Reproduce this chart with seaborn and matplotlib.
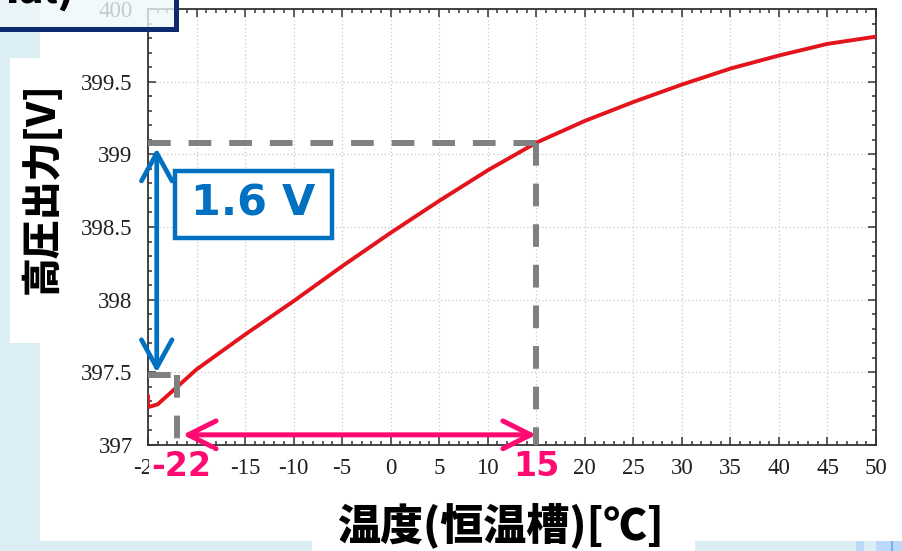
import matplotlib
matplotlib.use("Agg")
import matplotlib.pyplot as plt
import pandas as pd
import seaborn as sns
from matplotlib.patches import Rectangle
from matplotlib.ticker import MultipleLocator

# Measured HV output vs. chamber temperature
temperature_c = [-25, -25, -24, -22, -20, -15, -10, -5, 0, 5, 10, 15,
                 20, 25, 30, 35, 40, 45, 50]
hv_output_v = [397.34, 397.26, 397.28, 397.40, 397.52, 397.76, 397.99,
               398.23, 398.46, 398.68, 398.89, 399.08, 399.23, 399.36,
               399.48, 399.59, 399.68, 399.76, 399.81]

x_ticks = [-25, -20, -15, -10, -5, 0, 5, 10, 15, 20, 25, 30, 35, 40, 45, 50]
x_tick_labels = ["-25", "-20", "-15", "-10", "-5", "0", "5", "10", "15",
                 "20", "25", "30", "35", "40", "45", "50"]
y_ticks = [397, 397.5, 398, 398.5, 399, 399.5, 400]
y_tick_labels = ["397", "397.5", "398", "398.5", "399", "399.5", "400"]

# Annotated operating range
low_temp = -22
high_temp = 15
v_low = 397.48
v_high = 399.08
delta_label = "1.6 V"
low_label = "-22"
high_label = "15"

x_label = "温度(恒温槽)[℃]"
y_label = "高圧出力[V]"
corner_label = "ial)"

sns.set_theme(style="ticks")
plt.rcParams["font.family"] = ["Liberation Serif", "DejaVu Serif"]
CJK = ["Noto Sans CJK JP", "DejaVu Sans"]

W, H = 902, 551
fig = plt.figure(figsize=(W / 100, H / 100), dpi=100)
fig.patch.set_facecolor("#daeef3")


def fx(px):
    return px / W


def fy(py):
    return 1 - py / H


def box(x0, y0, x1, y1, **kw):
    r = Rectangle((fx(x0), fy(y1)), fx(x1) - fx(x0), fy(y0) - fy(y1),
                  transform=fig.transFigure, **kw)
    fig.add_artist(r)
    return r


# slide background panels
box(40, 0, 902, 541, facecolor="white", edgecolor="none", zorder=-3)
box(10, 58, 40, 343, facecolor="white", edgecolor="none", zorder=-3)
box(312, 490, 695, 551, facecolor="white", edgecolor="none", zorder=-3)
box(856, 541, 864, 551, facecolor="#bcd8fb", edgecolor="none", zorder=-3)
box(876, 541, 891, 551, facecolor="#bcd8fb", edgecolor="none", zorder=-3)
box(891, 541, 893, 551, facecolor="#70b2f8", edgecolor="none", zorder=-3)
box(893, 541, 902, 551, facecolor="#bcd8fb", edgecolor="none", zorder=-3)

ax = fig.add_axes([fx(148), fy(445), fx(876) - fx(148), fy(9) - fy(445)])
ax.set_facecolor("white")

df = pd.DataFrame({"temp": temperature_c, "volt": hv_output_v})
sns.lineplot(data=df, x="temp", y="volt", estimator=None, sort=False,
             color="#e3141c", linewidth=2.8, ax=ax, zorder=4)

ax.set_xlim(-25, 50)
ax.set_ylim(397, 400)
ax.set_xticks(x_ticks)
ax.set_xticklabels(x_tick_labels)
ax.set_yticks(y_ticks)
ax.set_yticklabels(y_tick_labels)
ax.xaxis.set_minor_locator(MultipleLocator(1))
ax.yaxis.set_minor_locator(MultipleLocator(0.1))
ax.tick_params(which="both", direction="in", top=True, right=True,
               color="#333333", width=1.1, labelsize=16.5, labelcolor="#1e1e1e")
ax.tick_params(which="major", length=6)
ax.tick_params(which="minor", length=3)
ax.tick_params(axis="y", pad=11)
ax.tick_params(axis="x", pad=9)
ax.set_xlabel("")
ax.set_ylabel("")
for s in ax.spines.values():
    s.set_color("#333333")
    s.set_linewidth(1.3)
ax.grid(True, which="major", linestyle=(0, (1, 2)), color="#c8c8c8", linewidth=0.9)

# dashed guide lines
gray = "#808080"
dash = dict(color=gray, linewidth=4.3, dashes=(3.8, 3.0), zorder=5,
            solid_capstyle="butt", dash_capstyle="butt", clip_on=False)
ax.plot([-25, high_temp], [v_high, v_high], **dash)
ax.plot([high_temp, high_temp], [v_high, 397], **dash)
ax.plot([-25, low_temp], [v_low, v_low], **dash)
ax.plot([low_temp, low_temp], [v_low, 397], **dash)

# voltage span arrow
blue = "#0070c0"
ax.annotate("", xy=(-24.1, v_high), xytext=(-24.1, v_low),
            arrowprops=dict(arrowstyle="<->,head_length=1.0,head_width=0.55",
                            mutation_scale=20, color=blue, lw=3.4,
                            shrinkA=2, shrinkB=4), zorder=6)
box(175, 171, 332, 238, facecolor="white", edgecolor=blue, linewidth=3.2, zorder=6)
fig.text(fx(253), fy(204), delta_label, ha="center", va="center",
         fontsize=31, fontweight="bold", color=blue,
         family=["DejaVu Sans"], zorder=7)

# temperature span arrow
pink = "#ff0a70"
ax.annotate("", xy=(high_temp, 397.07), xytext=(low_temp, 397.07),
            arrowprops=dict(arrowstyle="<->,head_length=1.0,head_width=0.5",
                            mutation_scale=20, color=pink, lw=3.6,
                            shrinkA=4, shrinkB=0), zorder=6)
for lab, t in ((low_label, low_temp), (high_label, high_temp)):
    xp = ax.transData.transform((t, 397))[0]
    fig.text(xp / W + (4 / W if t == low_temp else 0), fy(467), lab,
             ha="center", va="center", fontsize=24, fontweight="bold",
             color=pink, family=["DejaVu Sans"], zorder=7,
             bbox=dict(boxstyle="square,pad=0.05", facecolor="white",
                       edgecolor="none"))

# axis titles
fig.text(fx(500), fy(525), x_label, ha="center", va="center", fontsize=31,
         fontweight="heavy", color="black", family=CJK)
fig.text(fx(42), fy(188), y_label, ha="center", va="center", rotation=90,
         fontsize=28, fontweight="heavy", color="black", family=CJK)

# title box at top-left
box(-10, -10, 176, 29, facecolor="#eef8fa", alpha=0.8, edgecolor="none", zorder=8)
box(-10, -10, 176, 29, facecolor="none", edgecolor="#0c2a6e", linewidth=3.6, zorder=9)
fig.text(fx(74), fy(4), corner_label, ha="right", va="baseline", fontsize=30,
         fontweight="heavy", color="black", family=CJK, zorder=9)

fig.savefig("out.png", dpi=100, facecolor=fig.get_facecolor())
